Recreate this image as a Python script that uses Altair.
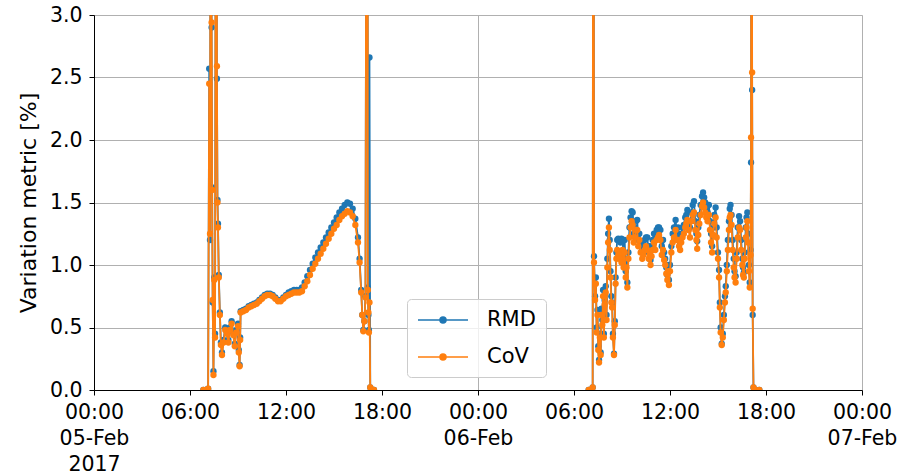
import altair as alt
import pandas as pd

# ---- data (time of day, RMD %, CoV %) ----
day1_times = ["06:50", "07:00", "07:08", "07:12", "07:15", "07:19", "07:21", "07:23", "07:25", "07:28",
              "07:31", "07:34", "07:39", "07:41", "07:43", "07:45", "07:48", "07:52", "07:56", "08:00",
              "08:06", "08:12", "08:18", "08:24", "08:30", "08:36", "08:42", "08:48", "08:54", "09:00",
              "09:03", "09:06", "09:08", "09:10", "09:20", "09:30", "09:40", "09:50", "10:00", "10:10",
              "10:20", "10:30", "10:40", "10:50", "11:00", "11:10", "11:20", "11:30", "11:40", "11:50",
              "12:00", "12:10", "12:20", "12:30", "12:40", "12:50", "13:00", "13:10", "13:20", "13:30",
              "13:40", "13:50", "14:00", "14:10", "14:20", "14:30", "14:40", "14:50", "15:00", "15:10",
              "15:20", "15:30", "15:40", "15:50", "16:00", "16:10", "16:20", "16:30", "16:36", "16:42",
              "16:46", "16:50", "16:54", "16:58", "17:05", "17:07", "17:09", "17:11", "17:13", "17:16",
              "17:22", "17:30"]
day1_rmd = [0, 0, 0.01, 2.57, 1.2, 8.0, 2.9, 1.62, 0.7, 0.15,
            0.9, 0.45, 9.0, 2.49, 1.52, 1.33, 0.92, 0.62, 0.38, 0.3,
            0.4, 0.5, 0.47, 0.4, 0.5, 0.55, 0.46, 0.37, 0.48, 0.53,
            0.32, 0.2, 0.42, 0.63, 0.64, 0.65, 0.67, 0.68, 0.69, 0.7,
            0.72, 0.74, 0.76, 0.77, 0.77, 0.76, 0.74, 0.72, 0.72, 0.74,
            0.76, 0.78, 0.79, 0.8, 0.8, 0.8, 0.82, 0.86, 0.91, 0.96,
            1.01, 1.06, 1.1, 1.14, 1.18, 1.22, 1.26, 1.3, 1.34, 1.38,
            1.42, 1.45, 1.48, 1.5, 1.49, 1.45, 1.37, 1.22, 1.05, 0.8,
            0.6, 0.48, 0.55, 0.75, 9.0, 0.82, 0.6, 0.48, 2.66, 0.02,
            0, 0]
day1_cov = [0, 0, 0.01, 2.45, 1.25, 8.0, 2.94, 1.6, 0.72, 0.12,
            0.88, 0.42, 9.0, 2.59, 1.5, 1.3, 0.9, 0.6, 0.36, 0.28,
            0.38, 0.48, 0.45, 0.38, 0.48, 0.53, 0.44, 0.35, 0.46, 0.51,
            0.3, 0.19, 0.4, 0.62, 0.63, 0.64, 0.66, 0.67, 0.68, 0.69,
            0.71, 0.73, 0.75, 0.76, 0.76, 0.75, 0.73, 0.71, 0.71, 0.73,
            0.75, 0.76, 0.77, 0.78, 0.78, 0.78, 0.79, 0.83, 0.87, 0.92,
            0.97, 1.01, 1.05, 1.09, 1.13, 1.17, 1.21, 1.25, 1.29, 1.32,
            1.36, 1.39, 1.41, 1.43, 1.42, 1.39, 1.32, 1.18, 1.02, 0.78,
            0.6, 0.47, 0.55, 0.74, 9.0, 0.8, 0.62, 0.46, 0.7, 0.02,
            0, 0]

day2_times = ["06:55", "07:05", "07:10", "07:13", "07:15", "07:19", "07:22", "07:25", "07:28", "07:31",
              "07:34", "07:37", "07:40", "07:43", "07:46", "07:49", "07:52", "07:55", "07:59", "08:02",
              "08:05", "08:08", "08:11", "08:14", "08:17", "08:20", "08:23", "08:26", "08:30", "08:33",
              "08:36", "08:39", "08:42", "08:46", "08:50", "08:54", "08:58", "09:02", "09:06", "09:10",
              "09:14", "09:17", "09:20", "09:24", "09:28", "09:32", "09:36", "09:40", "09:44", "09:48",
              "09:52", "09:57", "10:01", "10:05", "10:10", "10:16", "10:20", "10:25", "10:30", "10:35",
              "10:40", "10:44", "10:47", "10:51", "10:55", "11:00", "11:05", "11:10", "11:15", "11:19",
              "11:24", "11:29", "11:34", "11:38", "11:42", "11:46", "11:50", "11:53", "11:56", "12:00",
              "12:05", "12:10", "12:15", "12:21", "12:26", "12:30", "12:34", "12:38", "12:42", "12:47",
              "12:52", "12:57", "13:01", "13:05", "13:10", "13:15", "13:20", "13:25", "13:30", "13:35",
              "13:39", "13:42", "13:46", "13:50", "13:55", "14:00", "14:04", "14:08", "14:12", "14:16",
              "14:21", "14:26", "14:30", "14:34", "14:38", "14:42", "14:46", "14:51", "14:55", "15:00",
              "15:04", "15:07", "15:10", "15:14", "15:18", "15:22", "15:26", "15:29", "15:33", "15:37",
              "15:41", "15:44", "15:47", "15:51", "15:55", "15:59", "16:02", "16:06", "16:10", "16:14",
              "16:19", "16:23", "16:27", "16:31", "16:34", "16:37", "16:40", "16:44", "16:47", "16:50",
              "16:53", "16:56", "16:59", "17:02", "17:04", "17:06", "17:08", "17:10", "17:13", "17:20",
              "17:35"]
day2_rmd = [0, 0, 0.02, 9.0, 1.07, 0.75, 0.9, 0.5, 0.64, 0.35,
            0.24, 0.45, 0.3, 0.65, 0.56, 0.8, 0.45, 0.72, 0.83, 0.6,
            1.05, 1.25, 1.37, 1.2, 0.95, 0.75, 0.7, 0.45, 0.29, 0.55,
            0.9, 1.1, 1.2, 1.21, 1.2, 1.18, 1.21, 1.2, 1.05, 1.2,
            0.95, 1.05, 0.86, 1.1, 1.3, 1.38, 1.43, 1.42, 1.25, 1.3,
            1.35, 1.36, 1.2, 1.25, 1.18, 1.12, 1.15, 1.2, 1.22, 1.22,
            1.1, 1.15, 1.04, 1.12, 1.2, 1.25, 1.2, 1.28, 1.3, 1.3,
            1.28, 1.15, 1.2, 1.1, 1.05, 0.98, 0.92, 1.0, 0.88, 1.0,
            1.15, 1.25, 1.3, 1.36, 1.25, 1.3, 1.23, 1.18, 1.25, 1.3,
            1.32, 1.38, 1.4, 1.44, 1.35, 1.3, 1.42, 1.48, 1.51, 1.35,
            1.25, 1.19, 1.3, 1.4, 1.48, 1.55, 1.58, 1.54, 1.5, 1.45,
            1.42, 1.48, 1.35, 1.25, 1.15, 1.3, 1.4, 1.46, 1.3, 1.1,
            0.96, 0.7, 0.5, 0.37, 0.45, 0.6, 0.75, 0.83, 1.0, 1.2,
            1.35, 1.45, 1.48, 1.4, 1.2, 1.05, 0.95, 0.91, 1.1, 1.3,
            1.39, 1.35, 1.2, 1.05, 0.98, 0.94, 1.1, 1.3, 1.38, 1.42,
            1.25, 1.0, 0.86, 1.12, 1.82, 9.0, 2.4, 0.6, 0.02, 0,
            0]
day2_cov = [0, 0, 0.02, 9.0, 1.02, 0.72, 0.85, 0.46, 0.6, 0.32,
            0.22, 0.42, 0.28, 0.6, 0.52, 0.75, 0.42, 0.68, 0.78, 0.56,
            0.98, 1.18, 1.3, 1.12, 0.9, 0.7, 0.66, 0.42, 0.28, 0.52,
            0.85, 1.05, 1.12, 1.08, 1.05, 1.1, 1.02, 1.12, 0.98, 1.1,
            0.9, 0.98, 0.82, 1.05, 1.22, 1.3, 1.35, 1.32, 1.18, 1.22,
            1.28, 1.28, 1.15, 1.2, 1.1, 1.05, 1.08, 1.12, 1.15, 1.12,
            1.05, 1.08, 1.0, 1.07, 1.12, 1.18, 1.12, 1.2, 1.22, 1.24,
            1.2, 1.08, 1.12, 1.04, 1.0, 0.93, 0.88, 0.95, 0.84, 0.95,
            1.1, 1.18, 1.22, 1.28, 1.2, 1.2, 1.15, 1.12, 1.18, 1.22,
            1.25, 1.3, 1.33, 1.36, 1.28, 1.22, 1.35, 1.4, 1.42, 1.28,
            1.2, 1.13, 1.24, 1.33, 1.4, 1.47, 1.5, 1.46, 1.42, 1.38,
            1.35, 1.4, 1.28, 1.18, 1.1, 1.24, 1.33, 1.38, 1.22, 1.05,
            0.9, 0.66, 0.46, 0.36, 0.42, 0.56, 0.7, 0.78, 0.95, 1.12,
            1.28, 1.38, 1.4, 1.32, 1.12, 0.98, 0.9, 0.86, 1.05, 1.22,
            1.3, 1.28, 1.12, 1.0, 0.92, 0.9, 1.05, 1.22, 1.3, 1.35,
            1.18, 0.95, 0.82, 1.08, 2.02, 9.0, 2.54, 0.65, 0.02, 0,
            0]

series_names = ["RMD", "CoV"]
series_colors = ["#1f77b4", "#ff7f0e"]
tick_hours = [0, 6, 12, 18, 24, 30, 36, 42, 48]

rows = []
for day, date, times, rmd, cov in [(1, "2017-02-05", day1_times, day1_rmd, day1_cov),
                                   (2, "2017-02-06", day2_times, day2_rmd, day2_cov)]:
    for name, vals in zip(series_names, [rmd, cov]):
        for t, v in zip(times, vals):
            rows.append({"time": f"{date}T{t}:00", "value": v, "series": name, "day": day})
df = pd.DataFrame(rows)

tick_values = [alt.DateTime(year=2017, month=2, date=5 + h // 24, hours=h % 24) for h in tick_hours]

label_expr = ("hours(datum.value) == 0 ? (date(datum.value) == 5 ? "
              "[timeFormat(datum.value, '%H:%M'), timeFormat(datum.value, '%d-%b'), timeFormat(datum.value, '%Y')] : "
              "[timeFormat(datum.value, '%H:%M'), timeFormat(datum.value, '%d-%b')]) : "
              "timeFormat(datum.value, '%H:%M')")

FONT = "DejaVu Sans"

x_enc = alt.X(
    "time:T",
    scale=alt.Scale(domain=[alt.DateTime(year=2017, month=2, date=5, hours=0),
                            alt.DateTime(year=2017, month=2, date=7, hours=0)]),
    axis=alt.Axis(values=tick_values, labelExpr=label_expr, title=None,
                  labelFontSize=20.5, labelFont=FONT, labelColor="black",
                  labelLineHeight=26, labelPadding=7, labelAlign="center",
                  labelBaseline="top", labelOverlap=False, labelFlush=False,
                  tickSize=5, tickColor="black", domainColor="black",
                  gridColor="#b0b0b0", gridWidth=1,
                  gridOpacity={"condition": {"test": "hours(datum.value) == 0", "value": 1}, "value": 0}),
)
y_enc = alt.Y(
    "value:Q",
    scale=alt.Scale(domain=[0, 3], nice=False, zero=False),
    axis=alt.Axis(values=[0, 0.5, 1.0, 1.5, 2.0, 2.5, 3.0], format=".1f",
                  title="Variation metric [%]", titleFontSize=22, titleFont=FONT,
                  titleFontWeight="normal", titleColor="black", titlePadding=9,
                  labelFontSize=20.5, labelFont=FONT, labelColor="black", labelPadding=7,
                  tickSize=5, tickColor="black", domainColor="black",
                  gridColor="#b0b0b0", gridWidth=1),
)
color_enc = alt.Color(
    "series:N",
    scale=alt.Scale(domain=series_names, range=series_colors),
    legend=alt.Legend(
        title=None, orient="none", legendX=313, legendY=284,
        direction="vertical",
        labelFontSize=21, labelFont=FONT, labelColor="black",
        symbolType="M-1,0H4M1.8,0A0.3,0.3,0,1,1,1.2,0A0.3,0.3,0,1,1,1.8,0Z",
        symbolSize=400, symbolStrokeWidth=1.5, labelOffset=48,
        rowPadding=16, padding=10,
        fillColor="rgba(255,255,255,0.8)", strokeColor="#cccccc", cornerRadius=4,
    ),
)

layers = []
for name in series_names:
    base = alt.Chart(df).transform_filter(alt.datum.series == name)
    layers.append(base.mark_line(strokeWidth=1.8, clip=True).encode(
        x=x_enc, y=y_enc, color=color_enc, detail="day:N"))
    layers.append(base.mark_circle(size=40, opacity=1, clip=True).encode(
        x=x_enc, y=y_enc, color=color_enc))

chart = alt.layer(*layers).properties(
    width=768, height=375,
    autosize=alt.AutoSizeParams(type="none"),
    padding={"left": 94, "top": 15, "right": 36, "bottom": 85},
).configure_view(stroke="black", strokeWidth=1).configure(background="white")

chart.save("out.html", embed_options={"renderer": "svg", "actions": False})
